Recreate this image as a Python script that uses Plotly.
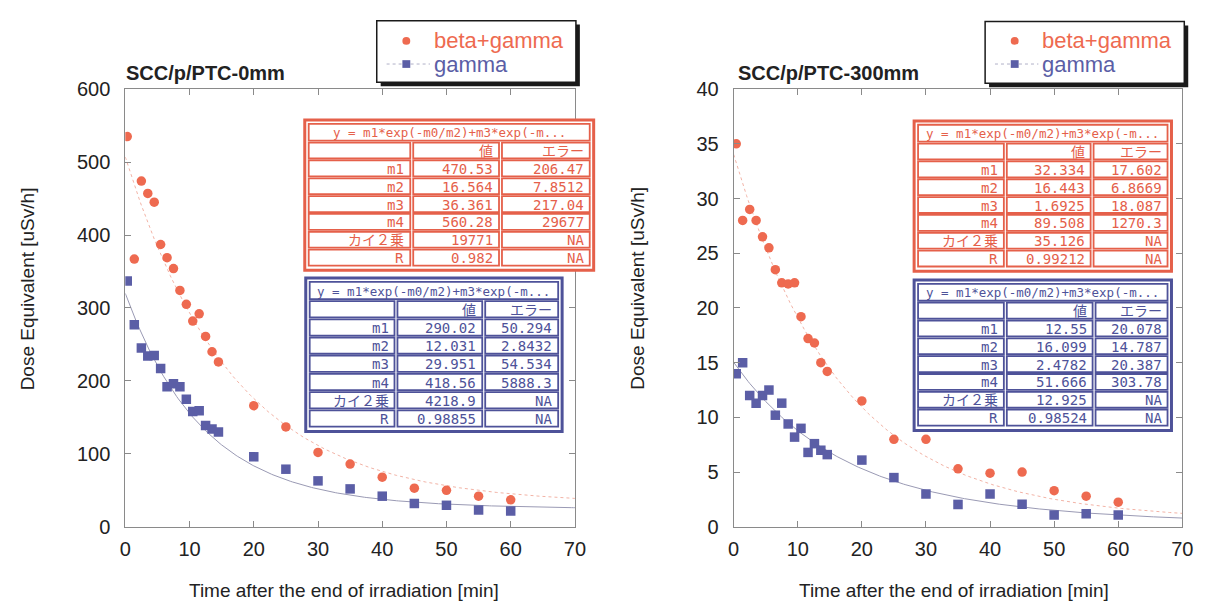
import numpy as np
import plotly.graph_objects as go

W, H = 1216, 614

# ---------------- data ----------------
t_left = [0.3, 1.4, 2.5, 3.5, 4.5, 5.5, 6.5, 7.5, 8.5, 9.5, 10.5, 11.5, 12.5, 13.5, 14.5,
          20, 25, 30, 35, 40, 45, 50, 55, 60]
bg_left = [535, 367, 474, 457, 445, 387, 369, 354, 324, 305, 282, 292, 261, 240, 226,
           166, 137, 102, 86, 68, 53, 50, 42, 37]
g_left = [337, 277, 245, 234, 235, 217, 192, 196, 192, 175, 158, 159, 139, 134, 130,
          96, 79, 63, 52, 42, 32, 29.5, 23, 21.6]

t_right = [0.4, 1.4, 2.5, 3.5, 4.5, 5.5, 6.5, 7.5, 8.5, 9.5, 10.5, 11.6, 12.6, 13.6, 14.6,
           20, 25, 30, 35, 40, 45, 50, 55, 60]
bg_right = [35.0, 28.0, 29.0, 28.0, 26.5, 25.5, 23.5, 22.3, 22.2, 22.3, 19.2, 17.2, 16.8, 15.0, 14.2,
            11.5, 8.0, 8.0, 5.3, 4.9, 5.0, 3.3, 2.8, 2.25]
g_right = [14.0, 15.0, 12.0, 11.3, 12.0, 12.5, 10.2, 11.3, 9.4, 8.2, 9.0, 6.8, 7.6, 7.0, 6.6,
           6.1, 4.5, 3.0, 2.05, 3.0, 2.07, 1.07, 1.2, 1.07]

# fit parameters (m1, m2, m3, m4) as shown in the tables
fit_bg_left = [470.53, 16.564, 36.361, 560.28]
fit_g_left = [290.02, 12.031, 29.951, 418.56]
fit_bg_right = [32.334, 16.443, 1.6925, 89.508]
fit_g_right = [12.55, 16.099, 2.4782, 51.666]

x_ticks = [0, 10, 20, 30, 40, 50, 60, 70]
y_ticks_left = [0, 100, 200, 300, 400, 500, 600]
y_ticks_right = [0, 5, 10, 15, 20, 25, 30, 35, 40]

titles = ["SCC/p/PTC-0mm", "SCC/p/PTC-300mm"]
series_names = ["beta+gamma", "gamma"]
x_title = "Time after the end of irradiation [min]"
y_title = "Dose Equivalent [uSv/h]"

table_header = "y = m1*exp(-m0/m2)+m3*exp(-m..."
row_labels = ["", "m1", "m2", "m3", "m4", "カイ２乗", "R"]
col_headers = ["値", "エラー"]
tab_bg_left_vals = ["470.53", "16.564", "36.361", "560.28", "19771", "0.982"]
tab_bg_left_errs = ["206.47", "7.8512", "217.04", "29677", "NA", "NA"]
tab_g_left_vals = ["290.02", "12.031", "29.951", "418.56", "4218.9", "0.98855"]
tab_g_left_errs = ["50.294", "2.8432", "54.534", "5888.3", "NA", "NA"]
tab_bg_right_vals = ["32.334", "16.443", "1.6925", "89.508", "35.126", "0.99212"]
tab_bg_right_errs = ["17.602", "6.8669", "18.087", "1270.3", "NA", "NA"]
tab_g_right_vals = ["12.55", "16.099", "2.4782", "51.666", "12.925", "0.98524"]
tab_g_right_errs = ["20.078", "14.787", "20.387", "303.78", "NA", "NA"]

# ---------------- style ----------------
RED = "#ee6a50"
BLUE = "#5b5ea6"
RED_T = "#e5604a"
BLUE_T = "#4e5299"
TXT = "#222222"
AX = "#8a8a8a"
FONT = "Liberation Sans, Arial, sans-serif"
MONO = "DejaVu Sans Mono, Noto Sans CJK JP, monospace"


def px(x):
    return x / W


def py(y):
    return 1 - y / H


def fitfun(p, x):
    return p[0] * np.exp(-x / p[1]) + p[2] * np.exp(-x / p[3])


xs = np.linspace(0, 70, 281)

fig = go.Figure()

panels = [
    dict(xa="x", ya="y", t=t_left, bg=bg_left, g=g_left, fb=fit_bg_left, fg=fit_g_left),
    dict(xa="x2", ya="y2", t=t_right, bg=bg_right, g=g_right, fb=fit_bg_right, fg=fit_g_right),
]

for p in panels:
    fig.add_trace(go.Scatter(x=xs, y=fitfun(p["fb"], xs), mode="lines",
                             line=dict(color="#f2b3a6", width=1, dash="dot"),
                             xaxis=p["xa"], yaxis=p["ya"], showlegend=False, hoverinfo="skip"))
    fig.add_trace(go.Scatter(x=xs, y=fitfun(p["fg"], xs), mode="lines",
                             line=dict(color="#9a9ab4", width=1),
                             xaxis=p["xa"], yaxis=p["ya"], showlegend=False, hoverinfo="skip"))
    fig.add_trace(go.Scatter(x=p["t"], y=p["bg"], mode="markers", name=series_names[0],
                             marker=dict(symbol="circle", size=9.5, color=RED),
                             xaxis=p["xa"], yaxis=p["ya"], showlegend=False))
    fig.add_trace(go.Scatter(x=p["t"], y=p["g"], mode="markers", name=series_names[1],
                             marker=dict(symbol="square", size=9.5, color=BLUE),
                             xaxis=p["xa"], yaxis=p["ya"], showlegend=False))

axis_common = dict(showline=True, linecolor=AX, linewidth=1, mirror="ticks",
                   ticks="inside", ticklen=6, tickcolor=AX, showgrid=False, zeroline=False,
                   tickfont=dict(family=FONT, size=20, color=TXT))

ydom = [py(535), py(81)]
fig.update_layout(
    width=W, height=H,
    margin=dict(l=0, r=0, t=0, b=0),
    paper_bgcolor="white", plot_bgcolor="white",
    showlegend=False,
    xaxis=dict(domain=[px(121), px(577)], range=[0, 70], tickvals=x_ticks, anchor="y",
               ticklabelstandoff=4, **axis_common),
    yaxis=dict(domain=ydom, range=[0, 600], tickvals=y_ticks_left, anchor="x",
               ticklabelstandoff=10, **axis_common),
    xaxis2=dict(domain=[px(738), px(1193)], range=[0, 70], tickvals=x_ticks, anchor="y2",
                ticklabelstandoff=4, **axis_common),
    yaxis2=dict(domain=ydom, range=[0, 40], tickvals=y_ticks_right, anchor="x2",
                ticklabelstandoff=10, **axis_common),
)

shapes = []
annotations = []

# titles & axis titles
for title, x0 in zip(titles, [120, 740]):
    annotations.append(dict(x=px(x0), y=py(64), xref="paper", yref="paper", text="<b>%s</b>" % title,
                            showarrow=False, xanchor="left", yanchor="middle",
                            font=dict(family=FONT, size=20, color=TXT)))
for xc in [343, 961]:
    annotations.append(dict(x=px(xc), y=py(601), xref="paper", yref="paper", text=x_title,
                            showarrow=False, xanchor="center", yanchor="middle",
                            font=dict(family=FONT, size=19, color=TXT)))
for xc in [22, 641]:
    annotations.append(dict(x=px(xc), y=py(288), xref="paper", yref="paper", text=y_title,
                            showarrow=False, xanchor="center", yanchor="middle", textangle=-90,
                            font=dict(family=FONT, size=19, color=TXT)))

# legends (drawn boxes)
for (bx0, bx1, by0, by1) in [(376, 578, 10, 74), (993, 1195, 11, 75)]:
    shapes.append(dict(type="rect", xref="paper", yref="paper",
                       x0=px(bx0 + 4), x1=px(bx1 + 4), y0=py(by1 + 4), y1=py(by0 + 4),
                       fillcolor="#1a1a1a", line=dict(width=0)))
    shapes.append(dict(type="rect", xref="paper", yref="paper",
                       x0=px(bx0), x1=px(bx1), y0=py(by1), y1=py(by0),
                       fillcolor="white", line=dict(color="#1a1a1a", width=1.5)))
    mx = bx0 + 30
    shapes.append(dict(type="circle", xref="paper", yref="paper",
                       x0=px(mx - 4), x1=px(mx + 4), y0=py(31 + 4), y1=py(31 - 4),
                       fillcolor=RED, line=dict(width=0)))
    shapes.append(dict(type="line", xref="paper", yref="paper",
                       x0=px(mx - 20), x1=px(mx + 24), y0=py(55), y1=py(55),
                       line=dict(color="#b0b0c8", width=1, dash="dot")))
    shapes.append(dict(type="rect", xref="paper", yref="paper",
                       x0=px(mx - 4), x1=px(mx + 4), y0=py(55 + 4), y1=py(55 - 4),
                       fillcolor=BLUE, line=dict(width=0)))
    annotations.append(dict(x=px(bx0 + 56), y=py(31), xref="paper", yref="paper",
                            text=series_names[0], showarrow=False, xanchor="left", yanchor="middle",
                            font=dict(family=FONT, size=22, color=RED)))
    annotations.append(dict(x=px(bx0 + 56), y=py(56), xref="paper", yref="paper",
                            text=series_names[1], showarrow=False, xanchor="left", yanchor="middle",
                            font=dict(family=FONT, size=22, color=BLUE)))


def draw_table(outer, cols, color, vals, errs):
    ox0, ox1, oy0, oy1 = outer
    shapes.append(dict(type="rect", xref="paper", yref="paper",
                       x0=px(ox0), x1=px(ox1), y0=py(oy1), y1=py(oy0),
                       fillcolor="white", line=dict(color=color, width=3)))
    iy0, iy1 = oy0 + 4, oy1 - 4
    nrows = 8
    rh = (iy1 - iy0) / nrows
    shapes.append(dict(type="rect", xref="paper", yref="paper",
                       x0=px(cols[0]), x1=px(cols[3]), y0=py(iy0 + rh - 1), y1=py(iy0),
                       line=dict(color=color, width=1.8)))
    annotations.append(dict(x=px((cols[0] + cols[3]) / 2), y=py(iy0 + rh / 2), xref="paper",
                            yref="paper", text=table_header, showarrow=False,
                            xanchor="center", yanchor="middle",
                            font=dict(family=MONO, size=12.5, color=color)))
    cells = [[row_labels[0], col_headers[0], col_headers[1]]]
    for i in range(6):
        cells.append([row_labels[i + 1], vals[i], errs[i]])
    for r in range(7):
        ry0 = iy0 + rh * (r + 1) + 1
        ry1 = iy0 + rh * (r + 2) - 1
        for c in range(3):
            cx0 = cols[c] + (1.5 if c > 0 else 0)
            cx1 = cols[c + 1] - (1.5 if c < 2 else 0)
            shapes.append(dict(type="rect", xref="paper", yref="paper",
                               x0=px(cx0), x1=px(cx1), y0=py(ry1), y1=py(ry0),
                               line=dict(color=color, width=1.8)))
            if cells[r][c]:
                annotations.append(dict(x=px(cx1 - 4), y=py((ry0 + ry1) / 2 + 0.5), xref="paper",
                                        yref="paper", text=cells[r][c], showarrow=False,
                                        xanchor="right", yanchor="middle",
                                        font=dict(family=MONO, size=14, color=color)))


draw_table((303, 596, 113, 269), [307, 411.5, 501.5, 592], RED_T, tab_bg_left_vals, tab_bg_left_errs)
draw_table((304, 564, 277, 436), [308, 395.5, 484.5, 560], BLUE_T, tab_g_left_vals, tab_g_left_errs)
draw_table((921, 1182, 114, 270), [925, 1013.5, 1101.5, 1178], RED_T, tab_bg_right_vals, tab_bg_right_errs)
draw_table((921, 1182, 279, 435), [925, 1013.5, 1103.5, 1178], BLUE_T, tab_g_right_vals, tab_g_right_errs)

fig.update_layout(shapes=shapes, annotations=annotations)

fig.write_html("out.html")
